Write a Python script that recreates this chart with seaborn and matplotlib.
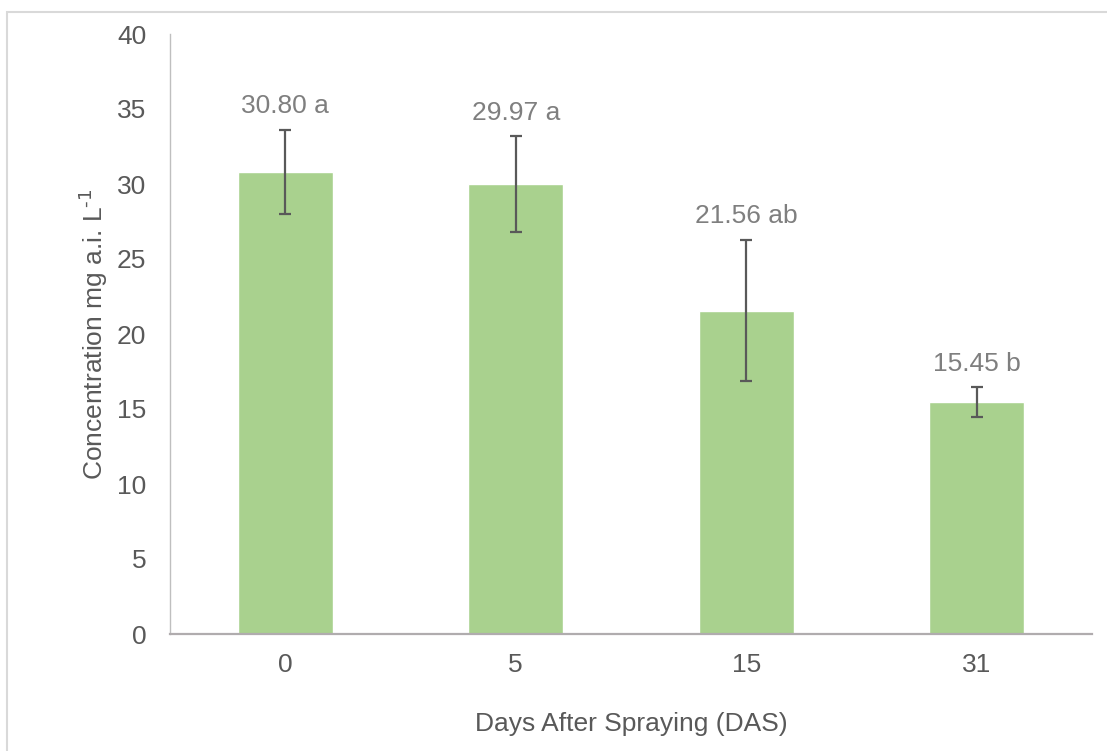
import matplotlib
matplotlib.use("Agg")
import matplotlib.pyplot as plt
from matplotlib.patches import Rectangle
import pandas as pd
import seaborn as sns

# Residue concentration after spraying
days = ["0", "5", "15", "31"]
concentration = [30.80, 29.97, 21.56, 15.45]
error = [2.8, 3.2, 4.7, 1.0]
letters = ["a", "a", "ab", "b"]
y_ticks = [0, 5, 10, 15, 20, 25, 30, 35, 40]

sns.set_theme(style="white")
plt.rcParams["font.family"] = ["Liberation Sans", "DejaVu Sans"]
plt.rcParams["mathtext.default"] = "regular"

df = pd.DataFrame({"DAS": days, "Concentration": concentration})

W, H = 1107, 751
fig = plt.figure(figsize=(W / 100, H / 100), dpi=100)
ax = fig.add_axes([170 / W, 1 - 634 / H, (1092 - 170) / W, (634 - 34) / H])

sns.barplot(data=df, x="DAS", y="Concentration", order=days, color="#a9d18e",
            saturation=1, width=0.41, errorbar=None, ax=ax)

positions = list(range(len(days)))
ax.errorbar(positions, concentration, yerr=error, fmt="none", ecolor="#595959",
            elinewidth=1.6, capsize=4.3, capthick=1.6, zorder=5)

for x, v, e, lab in zip(positions, concentration, error, letters):
    ax.annotate(f"{v:.2f} {lab}", xy=(x, v + e), xytext=(0, 12),
                textcoords="offset points", ha="center", va="baseline",
                fontsize=19, color="#7f7f7f")

ax.set_ylim(0, 40)
ax.set_xlim(-0.5, len(days) - 0.5)
ax.set_yticks(y_ticks)
ax.set_yticklabels([str(t) for t in y_ticks])
ax.tick_params(axis="y", length=0, pad=17, labelsize=19, labelcolor="#595959")
ax.tick_params(axis="x", length=0, pad=14, labelsize=19, labelcolor="#595959")

for side in ("top", "right"):
    ax.spines[side].set_visible(False)
ax.spines["left"].set_color("#bfbfbf")
ax.spines["left"].set_linewidth(1.0)
ax.spines["bottom"].set_color("#b0acae")
ax.spines["bottom"].set_linewidth(1.6)

ax.set_xlabel("Days After Spraying (DAS)", fontsize=19, color="#595959", labelpad=25)
ax.set_ylabel(r"Concentration mg a.i. L$^{\text{-1}}$", fontsize=19, color="#595959",
              labelpad=5)

# Chart-area frame
fig.patches.append(Rectangle((7 / W, -0.1), 2, (H - 12) / H + 0.1,
                             transform=fig.transFigure, fill=False,
                             ec="#d9d9d9", lw=1.5))

fig.savefig("out.png", dpi=100)
